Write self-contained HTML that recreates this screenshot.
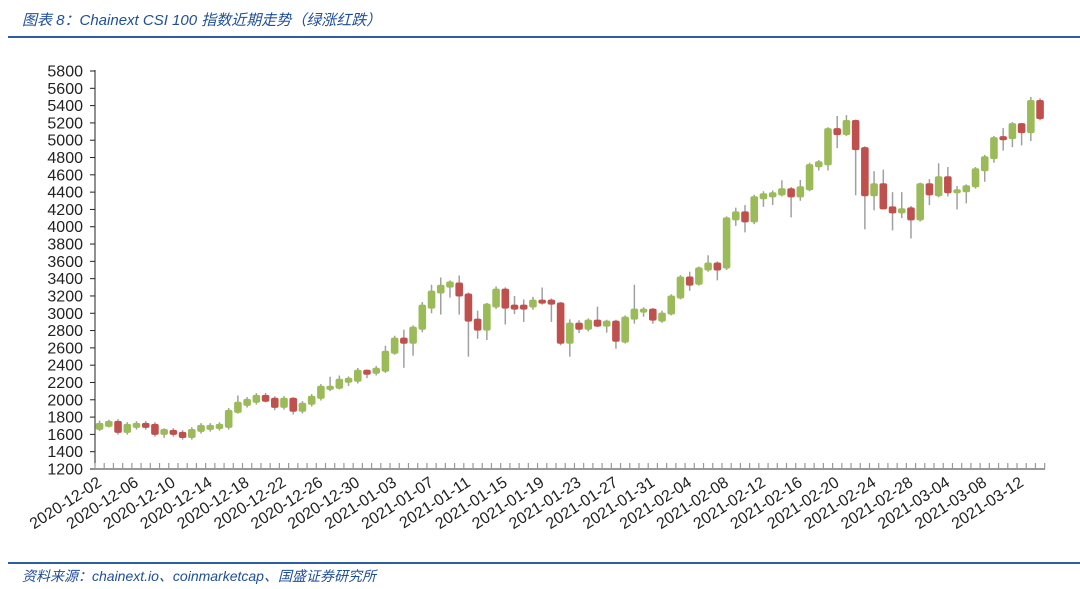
<!DOCTYPE html>
<html><head><meta charset="utf-8"><style>
body{margin:0;background:#fff;width:1080px;height:589px;overflow:hidden;font-family:"Liberation Sans","Noto Sans CJK SC",sans-serif}
.t{position:absolute;left:22px;top:9px;font-style:italic;color:#1f4e99;font-size:15px;font-family:"Liberation Sans","Noto Sans CJK SC",sans-serif}
.s{position:absolute;left:22px;top:566px;font-style:italic;color:#1f4e99;font-size:14px;font-family:"Liberation Sans","Noto Sans CJK SC",sans-serif}
.l1{position:absolute;left:8px;top:36px;width:1072px;height:2px;background:#2e5fa6}
.l2{position:absolute;left:8px;top:562px;width:1072px;height:2px;background:#2e5fa6}
</style></head><body>
<div class="t">图表 8：Chainext CSI 100 指数近期走势（绿涨红跌）</div>
<div class="l1"></div>
<svg id="c" width="1080" height="589" style="position:absolute;left:0;top:0"></svg>
<div class="l2"></div>
<div class="s">资料来源：chainext.io、coinmarketcap、国盛证券研究所</div>
<script>
var D=[[1652,1733,1760,1640],[1687,1756,1770,1680],[1756,1617],[1617,1721],[1675,1733],[1733,1675],[1721,1594],[1594,1663,1670,1560],[1652,1594],[1629,1559],[1559,1663],[1629,1710],[1652,1710],[1663,1721],[1675,1884],[1849,1977,2050,1840],[1930,2011],[1965,2057],[2057,1977,2080,1970],[2023,1907,2040,1880],[1907,2023],[2023,1861,2030,1830],[1861,1965],[1942,2046],[2011,2162],[2115,2162,2266,2100],[2127,2243,2280,2120],[2197,2255,2270,2160],[2208,2347],[2347,2289,2350,2250],[2301,2370],[2324,2567,2625,2310],[2532,2718,2740,2520],[2718,2648,2810,2370],[2648,2845,2860,2509],[2810,3100,3130,2780],[3054,3262,3330,3000],[3228,3330,3413,2985],[3297,3367,3380,3180],[3355,3193,3436,2985],[3228,2903,3240,2498],[2938,2800,3030,2706],[2800,3112,3120,2690],[3066,3285,3310,3050],[3285,3054,3300,2870],[3100,3042,3200,2990],[3100,3042,3160,2900],[3066,3158,3190,3040],[3158,3112,3297,3100],[3158,3100,3170,2900],[3124,2648,3130,2630],[2648,2892,2930,2498],[2892,2810,2920,2770],[2810,2926,2940,2790],[2926,2845,3077,2840],[2845,2915,2925,2776],[2915,2671,2925,2590],[2660,2961,2975,2650],[2926,3054,3330,2880],[3008,3054,3070,2960],[3054,2915,3060,2880],[2903,3008,3030,2890],[2985,3205,3220,2975],[3170,3425,3440,3160],[3425,3320,3480,3260],[3330,3530,3540,3320],[3494,3587,3670,3480],[3587,3494,3600,3380],[3517,4108,4120,3500],[4073,4178,4220,4010],[4178,4050,4250,3935],[4050,4352,4370,4030],[4317,4387,4410,4230],[4340,4398,4420,4250],[4363,4445,4537,4350],[4445,4340,4460,4108],[4340,4468,4540,4300],[4422,4723,4740,4410],[4688,4757,4770,4650],[4711,5140,5150,4650],[5140,5059,5280,4908],[5059,5233,5290,5050],[5233,4885,5240,4364],[4920,4352,4930,3970],[4352,4502,4642,4190],[4502,4201,4660,4200],[4236,4155,4400,3958],[4155,4213,4400,4100],[4224,4073,4240,3865],[4073,4502,4510,4060],[4502,4363,4550,4250],[4352,4583,4734,4340],[4583,4387,4690,4350],[4387,4433,4470,4200],[4398,4479,4490,4270],[4456,4676,4690,4440],[4641,4815,4830,4520],[4781,5036,5050,4740],[5047,5000,5140,4880],[5012,5198,5210,4920],[5198,5082,5200,4940],[5082,5465,5500,4990],[5465,5244,5485,5230]];
var s='',Y=function(p){return 469-(p-1200)*398/4600},X=function(i){return 95+9.22*(i+0.5)};
for(var v=1200;v<=5800;v+=200){var y=Y(v);s+='<line x1="90" x2="95" y1="'+y+'" y2="'+y+'" stroke="#222"/><text x="83" y="'+(y+5.5)+'" font-size="16" text-anchor="end" fill="#222">'+v+'</text>';}
s+='<line x1="95" x2="95" y1="70" y2="469" stroke="#222"/><line x1="95" x2="1045" y1="469" y2="469" stroke="#999" stroke-width="2"/>';
for(var i=0;i<=103;i++){var x=95+9.22*i;s+='<line x1="'+x+'" x2="'+x+'" y1="463" y2="469" stroke="#999" stroke-width="1.2"/>';}
D.forEach(function(d,i){var o=d[0],c=d[1],h=d[2]||Math.max(o,c)+20,l=d[3]||Math.min(o,c)-20,x=X(i);
s+='<line x1="'+x+'" x2="'+x+'" y1="'+Y(h)+'" y2="'+Y(l)+'" stroke="#a0a0a0" stroke-width="1.5"/>';
var t=Y(Math.max(o,c)),b=Y(Math.min(o,c));if(b-t<4){var m=(t+b)/2;t=m-2;b=m+2;}
s+='<rect x="'+(x-3.8)+'" y="'+t+'" width="7.6" height="'+(b-t)+'" rx="2" fill="'+(c>=o?'#9bbb59':'#c0504d')+'"/>';});
var st=new Date(Date.UTC(2020,11,2));
for(var i=0;i<=100;i+=4){var dt=new Date(st.getTime()+i*864e5),lb=dt.toISOString().slice(0,10),x=X(i)+3;
s+='<text transform="translate('+x+',485) rotate(-33)" font-size="16" text-anchor="end" fill="#222">'+lb+'</text>';}
document.getElementById('c').innerHTML=s;
</script>
</body></html>
